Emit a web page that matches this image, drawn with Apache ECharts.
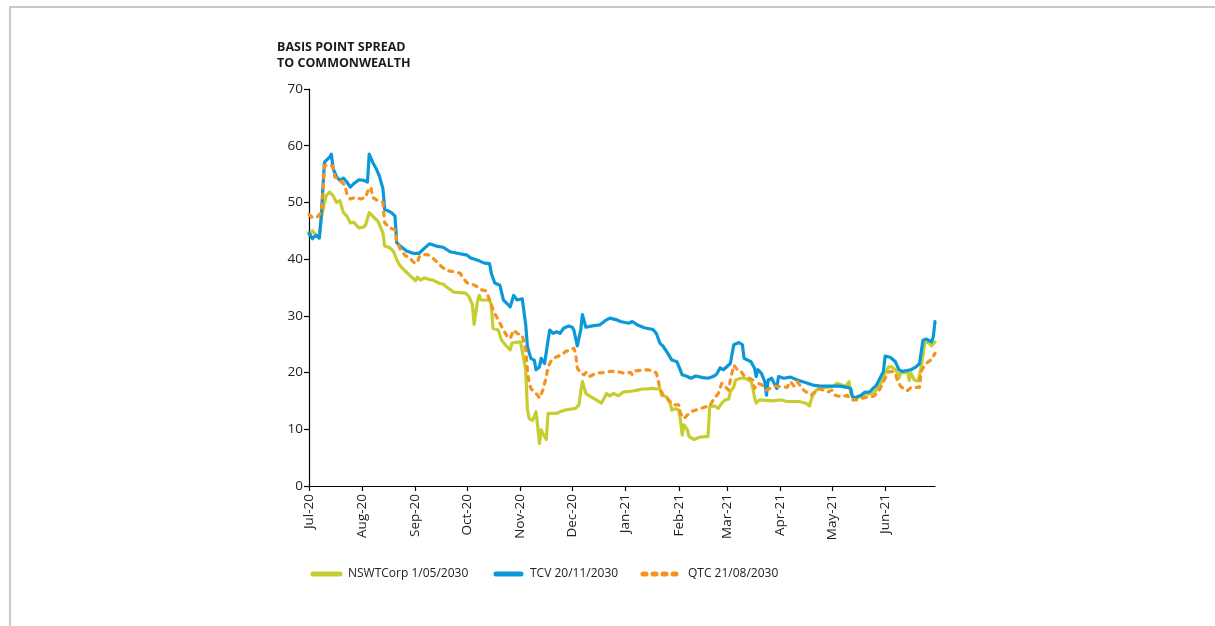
<!DOCTYPE html>
<html>
<head>
<meta charset="utf-8">
<script src="https://cdn.jsdelivr.net/npm/echarts@6/dist/echarts.min.js"></script>
<style>
html,body{margin:0;padding:0;background:#fff;}
#chart{width:1215px;height:626px;}
</style>
</head>
<body>
<div id="chart"></div>
<script>
// ---- Data ----
const monthStarts = ['2020-07-01','2020-08-01','2020-09-01','2020-10-01','2020-11-01','2020-12-01','2021-01-01','2021-02-01','2021-03-01','2021-04-01','2021-05-01','2021-06-01'];
const monthLabels = ['Jul-20','Aug-20','Sep-20','Oct-20','Nov-20','Dec-20','Jan-21','Feb-21','Mar-21','Apr-21','May-21','Jun-21'];
const yTicks = [0,10,20,30,40,50,60,70];
const seriesNames = ['NSWTCorp 1/05/2030','TCV 20/11/2030','QTC 21/08/2030'];

const nswDates = ['2020-07-01','2020-07-03','2020-07-05','2020-07-07','2020-07-08','2020-07-10','2020-07-11','2020-07-13','2020-07-14','2020-07-15','2020-07-17','2020-07-19','2020-07-21','2020-07-23','2020-07-25','2020-07-27','2020-07-30','2020-08-02','2020-08-03','2020-08-05','2020-08-06','2020-08-08','2020-08-10','2020-08-11','2020-08-13','2020-08-14','2020-08-17','2020-08-19','2020-08-21','2020-08-23','2020-08-25','2020-08-27','2020-08-29','2020-09-01','2020-09-02','2020-09-04','2020-09-06','2020-09-09','2020-09-11','2020-09-15','2020-09-17','2020-09-19','2020-09-23','2020-09-30','2020-10-02','2020-10-04','2020-10-05','2020-10-07','2020-10-08','2020-10-09','2020-10-12','2020-10-14','2020-10-15','2020-10-16','2020-10-19','2020-10-21','2020-10-24','2020-10-26','2020-10-27','2020-10-29','2020-11-01','2020-11-02','2020-11-04','2020-11-05','2020-11-06','2020-11-08','2020-11-09','2020-11-10','2020-11-11','2020-11-12','2020-11-13','2020-11-15','2020-11-16','2020-11-17','2020-11-22','2020-11-24','2020-11-27','2020-12-03','2020-12-04','2020-12-05','2020-12-06','2020-12-07','2020-12-09','2020-12-10','2020-12-12','2020-12-15','2020-12-18','2020-12-20','2020-12-21','2020-12-23','2020-12-25','2020-12-28','2020-12-31','2021-01-04','2021-01-06','2021-01-08','2021-01-11','2021-01-12','2021-01-13','2021-01-17','2021-01-19','2021-01-21','2021-01-22','2021-01-25','2021-01-27','2021-01-28','2021-01-30','2021-02-01','2021-02-02','2021-02-03','2021-02-04','2021-02-06','2021-02-07','2021-02-10','2021-02-13','2021-02-16','2021-02-18','2021-02-19','2021-02-20','2021-02-22','2021-02-24','2021-02-26','2021-02-28','2021-03-02','2021-03-03','2021-03-05','2021-03-06','2021-03-09','2021-03-11','2021-03-13','2021-03-15','2021-03-16','2021-03-17','2021-03-18','2021-03-19','2021-03-20','2021-03-28','2021-04-01','2021-04-05','2021-04-12','2021-04-16','2021-04-18','2021-04-19','2021-04-20','2021-04-22','2021-04-24','2021-04-28','2021-05-02','2021-05-04','2021-05-07','2021-05-09','2021-05-11','2021-05-12','2021-05-14','2021-05-17','2021-05-21','2021-05-23','2021-05-26','2021-05-28','2021-05-30','2021-06-01','2021-06-03','2021-06-05','2021-06-07','2021-06-08','2021-06-09','2021-06-10','2021-06-12','2021-06-14','2021-06-15','2021-06-16','2021-06-18','2021-06-20','2021-06-21','2021-06-22','2021-06-24','2021-06-26','2021-06-28','2021-06-30'];
const nswValues = [44.3,45,44.3,44.0,47,50,51.2,51.8,52.1,51.2,50,50.3,48.2,47.6,46.4,46.5,45.5,45.7,46.1,48.2,48.3,47.3,46.7,46.1,44.6,42.3,42,41.4,39.9,38.8,38.2,37.6,37.0,36.2,36.8,36.3,36.7,36.4,36.3,35.7,35.6,35.1,34.2,34.0,33.4,32.0,28.5,32.6,33.6,32.8,32.8,32.7,32.0,27.8,27.5,25.7,24.6,24,25.2,25.3,25.4,25.3,20.5,13.5,11.9,11.6,12.2,13.1,10.5,7.5,9.9,8.7,8.2,12.8,12.8,13.1,13.4,13.7,13.4,14.3,16.6,18.4,16.3,16.3,15.7,15.2,14.6,15.7,16.3,15.9,16.3,15.9,16.6,16.7,16.8,16.9,17.1,17.4,17.1,17.2,17.1,17.2,16,15.7,14.6,13.4,13.6,13.4,11.6,9,10.8,9.9,8.7,8.2,8.6,8.7,8.7,14,14.3,14.1,13.7,14.6,15.2,15.3,16.6,17.5,18.7,19,19,18.8,18.4,17.4,15.7,14.6,14.9,15.2,15,15.2,14.9,14.9,14.6,14.1,15.2,16,16.9,17.2,17.4,17.6,18.1,17.8,17.5,18.4,16.3,15.5,15.7,16.3,16.2,16.6,17.4,18.4,19.9,21,21,20.5,19.9,19,20,20,20.2,18.6,19.9,18.7,18.5,19.5,21,25.2,25.4,24.7,25.4];

const tcvDates = ['2020-07-01','2020-07-03','2020-07-05','2020-07-07','2020-07-08','2020-07-10','2020-07-13','2020-07-14','2020-07-15','2020-07-17','2020-07-19','2020-07-21','2020-07-23','2020-07-25','2020-07-27','2020-07-30','2020-08-02','2020-08-04','2020-08-05','2020-08-07','2020-08-09','2020-08-11','2020-08-13','2020-08-14','2020-08-18','2020-08-20','2020-08-21','2020-08-23','2020-08-27','2020-08-31','2020-09-03','2020-09-06','2020-09-09','2020-09-13','2020-09-17','2020-09-21','2020-09-22','2020-09-26','2020-10-01','2020-10-03','2020-10-08','2020-10-11','2020-10-14','2020-10-15','2020-10-17','2020-10-20','2020-10-22','2020-10-26','2020-10-28','2020-10-30','2020-11-02','2020-11-04','2020-11-05','2020-11-07','2020-11-09','2020-11-10','2020-11-12','2020-11-13','2020-11-15','2020-11-16','2020-11-17','2020-11-18','2020-11-20','2020-11-22','2020-11-24','2020-11-26','2020-11-29','2020-12-01','2020-12-02','2020-12-04','2020-12-06','2020-12-07','2020-12-09','2020-12-12','2020-12-17','2020-12-21','2020-12-23','2020-12-27','2020-12-29','2021-01-03','2021-01-05','2021-01-08','2021-01-12','2021-01-17','2021-01-19','2021-01-21','2021-01-23','2021-01-25','2021-01-28','2021-01-31','2021-02-01','2021-02-03','2021-02-06','2021-02-08','2021-02-11','2021-02-15','2021-02-18','2021-02-21','2021-02-23','2021-02-25','2021-02-27','2021-03-03','2021-03-05','2021-03-08','2021-03-10','2021-03-11','2021-03-15','2021-03-17','2021-03-18','2021-03-19','2021-03-21','2021-03-23','2021-03-24','2021-03-25','2021-03-27','2021-03-30','2021-03-31','2021-04-03','2021-04-07','2021-04-11','2021-04-16','2021-04-20','2021-04-24','2021-05-02','2021-05-06','2021-05-10','2021-05-12','2021-05-13','2021-05-15','2021-05-18','2021-05-20','2021-05-23','2021-05-25','2021-05-27','2021-05-29','2021-05-31','2021-06-01','2021-06-04','2021-06-07','2021-06-09','2021-06-11','2021-06-16','2021-06-19','2021-06-21','2021-06-23','2021-06-25','2021-06-28','2021-06-29','2021-06-30'];
const tcvValues = [44.6,43.6,44.2,43.7,47,57.1,58.0,58.5,56,54.5,53.9,54.3,53.6,52.7,53.3,54,53.9,53.6,58.5,57.1,56,54.6,52.4,48.8,48.2,47.6,42.9,42.3,41.4,41.0,41.0,41.9,42.7,42.3,42.1,41.3,41.6,41.0,40.7,40.2,39.7,39.3,39.2,37.5,35.8,35.4,32.8,31.6,33.6,32.8,33.0,28.5,24.6,22.5,22.2,20.5,21,22.5,21.6,21.3,25.7,27.5,26.9,27.2,26.9,27.8,28.2,28,27.5,24.7,27.5,30.2,28,28.2,28.4,29.3,29.6,29.3,29,28.7,29,28.4,27.9,27.6,26.9,25.2,24.6,23.7,22.2,21.9,22.2,19.6,19.3,19,19.4,19.1,19,19.3,19.7,20.8,20.5,21.6,24.9,25.3,24.9,22.5,21.9,20.8,19.3,20.5,19.9,18.4,16,18.7,19,17.2,19.3,19,19.2,18.7,18.2,17.8,17.6,17.6,17.6,17.4,17.2,15.7,15.6,16,16.5,16.6,17.2,17.8,19,20.2,22.9,22.7,21.9,20.5,20.2,20.5,21,21.6,25.7,25.9,25.4,26.3,29];

const qtcDates = ['2020-07-01','2020-07-03','2020-07-06','2020-07-08','2020-07-09','2020-07-10','2020-07-13','2020-07-15','2020-07-16','2020-07-18','2020-07-20','2020-07-22','2020-07-23','2020-07-25','2020-07-28','2020-07-31','2020-08-03','2020-08-04','2020-08-06','2020-08-07','2020-08-10','2020-08-13','2020-08-14','2020-08-17','2020-08-20','2020-08-21','2020-08-23','2020-08-26','2020-08-28','2020-08-31','2020-09-02','2020-09-03','2020-09-05','2020-09-08','2020-09-11','2020-09-14','2020-09-16','2020-09-19','2020-09-23','2020-09-27','2020-09-28','2020-10-01','2020-10-04','2020-10-07','2020-10-09','2020-10-12','2020-10-14','2020-10-15','2020-10-17','2020-10-19','2020-10-21','2020-10-24','2020-10-26','2020-10-28','2020-10-29','2020-10-30','2020-11-02','2020-11-04','2020-11-05','2020-11-06','2020-11-07','2020-11-09','2020-11-11','2020-11-12','2020-11-14','2020-11-16','2020-11-17','2020-11-19','2020-11-22','2020-11-25','2020-11-27','2020-11-30','2020-12-02','2020-12-03','2020-12-04','2020-12-06','2020-12-08','2020-12-09','2020-12-11','2020-12-15','2020-12-19','2020-12-23','2020-12-27','2020-12-31','2021-01-04','2021-01-05','2021-01-07','2021-01-10','2021-01-14','2021-01-17','2021-01-19','2021-01-20','2021-01-21','2021-01-23','2021-01-25','2021-01-28','2021-01-30','2021-02-01','2021-02-02','2021-02-04','2021-02-06','2021-02-08','2021-02-11','2021-02-14','2021-02-17','2021-02-19','2021-02-21','2021-02-24','2021-02-26','2021-02-28','2021-03-02','2021-03-03','2021-03-05','2021-03-07','2021-03-09','2021-03-11','2021-03-14','2021-03-16','2021-03-17','2021-03-19','2021-03-21','2021-03-23','2021-03-24','2021-03-26','2021-03-29','2021-04-05','2021-04-07','2021-04-09','2021-04-11','2021-04-13','2021-04-15','2021-04-19','2021-04-21','2021-04-23','2021-04-26','2021-04-29','2021-05-01','2021-05-03','2021-05-07','2021-05-10','2021-05-11','2021-05-13','2021-05-16','2021-05-19','2021-05-22','2021-05-25','2021-05-28','2021-05-30','2021-06-01','2021-06-03','2021-06-05','2021-06-07','2021-06-08','2021-06-10','2021-06-12','2021-06-14','2021-06-16','2021-06-19','2021-06-21','2021-06-22','2021-06-24','2021-06-26','2021-06-28','2021-06-30'];
const qtcValues = [47.9,47.3,47.5,48.2,51.2,56.5,56.7,56.3,54.5,54.2,53.6,53,51.5,50.6,50.9,50.6,50.9,51.9,52.7,50.9,50.3,50,46.4,45.5,45.2,43.2,41.8,40.6,40.4,39.4,39.3,40.4,40.8,40.8,40.2,39.3,38.7,38,37.8,37.5,36.9,35.8,35.6,35.1,34.6,34.4,32.8,31.9,30.4,29.3,28.1,26.5,26,27.5,27.8,26.9,26.6,24,20.5,18.1,17.2,16.6,16,15.5,16.9,19.3,21,22.2,22.8,23.1,23.7,24,24.3,23.4,20.8,19.9,19.6,20,19.3,19.9,20,20.2,20.2,19.9,20.0,19.6,20.3,20.4,20.5,20.3,19.9,18.7,17.2,16,15.5,14.6,14.3,14.3,12.8,11.9,12.5,13.1,13.4,13.7,14,14.1,15.2,16.3,18.1,17.5,16.9,18.7,21.3,20.5,20.3,19.4,19,18.7,17.2,18.1,17.9,17.4,16.9,17.2,17.6,17.4,18.4,17.6,18.4,17.5,16.8,16,16.6,17.2,16.9,16.6,16.9,16,15.7,16,15.5,15.2,15.2,15.5,15.7,15.8,16.5,17.8,19.0,20.1,20.2,19.9,18.7,17.6,17.1,16.8,17.4,17.4,17.4,20.2,21.3,21.9,22.3,23.4];

// ---- helpers ----
const ORIGIN = Date.UTC(2020, 6, 1);
function dayOf(s) {
  const p = s.split('-').map(Number);
  return Math.round((Date.UTC(p[0], p[1] - 1, p[2]) - ORIGIN) / 86400000);
}
function pairs(dates, vals) { return dates.map((d, i) => [dayOf(d), vals[i]]); }
const monthTickDays = monthStarts.map(dayOf);
const labelByDay = {};
monthTickDays.forEach((d, i) => { labelByDay[d] = monthLabels[i]; });

const FONT = '"Open Sans", "Noto Sans", Arial, sans-serif';
const COLORS = ['#c5cd2f', '#0a98d8', '#f6921e'];
const DASH = [4, 6];

// manual legend (line keys without markers, as in the reference)
const legendItems = [
  { x1: 313, x2: 340, tx: 348, dash: null },
  { x1: 496, x2: 521, tx: 530, dash: null },
  { x1: 643, x2: 676, tx: 688, dash: [3, 7] }
];
const LEGEND_Y = 574;
const legendGraphics = [];
legendItems.forEach((it, i) => {
  legendGraphics.push({ type: 'line', silent: true,
    shape: { x1: it.x1, y1: LEGEND_Y, x2: it.x2, y2: LEGEND_Y },
    style: { stroke: COLORS[i], lineWidth: 5, lineCap: 'round', lineDash: it.dash } });
  legendGraphics.push({ type: 'text', silent: true, x: it.tx, y: LEGEND_Y,
    style: { text: seriesNames[i], fontFamily: FONT, fontSize: 12, fill: '#222', verticalAlign: 'middle' } });
});

const chart = echarts.init(document.getElementById('chart'), null, { renderer: 'canvas' });
chart.setOption({
  animation: false,
  backgroundColor: '#ffffff',
  textStyle: { fontFamily: FONT },
  graphic: [
    { type: 'polyline', silent: true, shape: { points: [[10, 626], [10, 7], [1215, 7]] },
      style: { stroke: '#c8c8c8', lineWidth: 2, fill: null } },
    { type: 'text', left: 277, top: 39, silent: true,
      style: { text: 'BASIS POINT SPREAD\nTO COMMONWEALTH', fontFamily: FONT, fontWeight: 'bold',
               fontSize: 12.5, lineHeight: 16, fill: '#1a1a1a' } }
  ].concat(legendGraphics),
  grid: { left: 309, right: 280, top: 89, bottom: 140, containLabel: false },
  xAxis: {
    type: 'value', min: 0, max: 364,
    axisLine: { show: true, lineStyle: { color: '#000', width: 1.2 } },
    axisTick: { show: true, length: 5, lineStyle: { color: '#000', width: 1.2 }, customValues: monthTickDays },
    axisLabel: {
      customValues: monthTickDays, rotate: 90, margin: 8,
      fontFamily: FONT, fontSize: 13.5, color: '#222',
      formatter: v => labelByDay[Math.round(v)] || ''
    },
    splitLine: { show: false }
  },
  yAxis: {
    type: 'value', min: 0, max: 70, interval: 10,
    axisLine: { show: true, lineStyle: { color: '#000', width: 1.2 } },
    axisTick: { show: true, length: 5, lineStyle: { color: '#000', width: 1.2 } },
    axisLabel: { margin: 6, fontFamily: FONT, fontSize: 13.5, color: '#222',
                 formatter: v => yTicks.indexOf(v) >= 0 ? String(v) : '' },
    splitLine: { show: false }
  },
  series: [
    { name: seriesNames[0], type: 'line', data: pairs(nswDates, nswValues), showSymbol: false, symbol: 'none',
      color: COLORS[0], lineStyle: { width: 3.2, color: COLORS[0], cap: 'round', join: 'round' }, z: 2 },
    { name: seriesNames[1], type: 'line', data: pairs(tcvDates, tcvValues), showSymbol: false, symbol: 'none',
      color: COLORS[1], lineStyle: { width: 3.2, color: COLORS[1], cap: 'round', join: 'round' }, z: 3 },
    { name: seriesNames[2], type: 'line', data: pairs(qtcDates, qtcValues), showSymbol: false, symbol: 'none',
      color: COLORS[2], lineStyle: { width: 3.2, color: COLORS[2], type: DASH, cap: 'round', join: 'round' }, z: 4 }
  ]
});
</script>
</body>
</html>
